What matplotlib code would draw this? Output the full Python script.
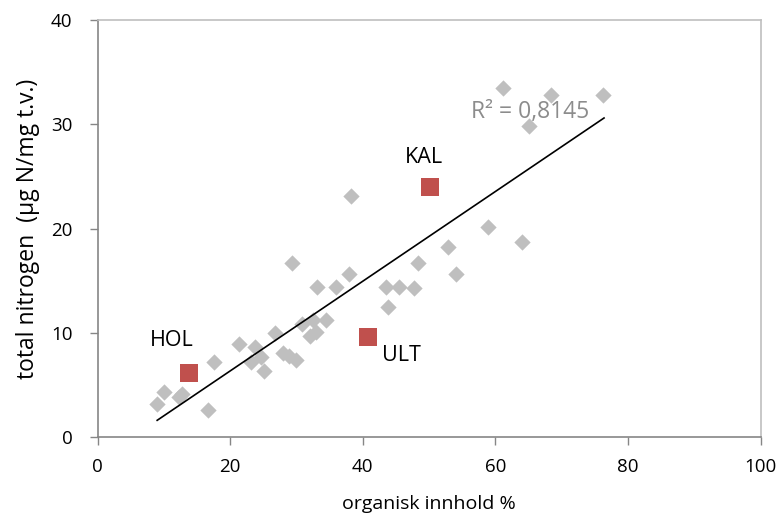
import numpy as np
import matplotlib.pyplot as plt

plt.rcParams["font.family"] = ["Open Sans", "DejaVu Sans"]

# grey samples: organic content (%) vs total nitrogen (ug N/mg dw)
organic = [9.0, 10.1, 12.3, 12.7, 16.7, 17.6, 21.4, 23.8, 23.2, 24.7, 25.1,
           26.8, 28.0, 28.9, 29.9, 29.3, 30.8, 32.0, 32.5, 32.9, 33.1, 34.4,
           35.9, 37.9, 38.2, 43.5, 43.8, 45.4, 47.7, 48.4, 52.9, 54.1, 58.9,
           61.2, 64.1, 65.1, 68.4, 76.2]
nitrogen = [3.2, 4.3, 3.8, 4.1, 2.6, 7.2, 8.9, 8.6, 7.2, 7.7, 6.3,
            10.0, 8.1, 7.8, 7.4, 16.7, 10.8, 9.7, 11.2, 10.1, 14.4, 11.2,
            14.4, 15.6, 23.1, 14.4, 12.5, 14.4, 14.3, 16.7, 18.2, 15.6, 20.1,
            33.5, 18.7, 29.8, 32.8, 32.8]

# highlighted stations
station_names = ["HOL", "ULT", "KAL"]
station_organic = [13.8, 40.8, 50.2]
station_nitrogen = [6.1, 9.6, 24.0]
label_pos = [(11.2, 9.3), (45.9, 7.8), (49.3, 26.8)]

trend_start = (9.0, 1.6)
trend_end = (76.4, 30.6)
r2_text = "R² = 0,8145"

fig = plt.figure(figsize=(7.82, 5.14), dpi=100)
ax = fig.add_axes([97.5 / 782, 1 - 437 / 514, 663 / 782, 417 / 514])

ax.scatter(organic, nitrogen, marker="D", s=8.3 ** 2, color="#BFBFBF",
           linewidths=0, zorder=2)
ax.plot([trend_start[0], trend_end[0]], [trend_start[1], trend_end[1]],
        color="black", linewidth=1.2, zorder=3)
ax.scatter(station_organic, station_nitrogen, marker="s", s=12.5 ** 2,
           color="#C0504D", linewidths=0, zorder=4)

for name, (lx, ly) in zip(station_names, label_pos):
    ax.text(lx, ly, name, fontsize=15.5, ha="center", va="center", color="black")

ax.text(65.2, 31.2, r2_text, fontsize=16.5, ha="center", va="center",
        color="#8C8C8C")

ax.set_xlim(0, 100)
ax.set_ylim(0, 40)
ax.set_xticks(range(0, 101, 20))
ax.set_yticks(range(0, 41, 10))
ax.tick_params(labelsize=13.5, length=6, width=1, color="#868686", pad=9)
ax.tick_params(axis="y", pad=12)

for side in ["left", "bottom"]:
    ax.spines[side].set_color("#868686")
    ax.spines[side].set_linewidth(1.2)
for side in ["top", "right"]:
    ax.spines[side].set_color("#BFBFBF")
    ax.spines[side].set_linewidth(1.2)

ax.set_xlabel("organisk innhold %", fontsize=14, labelpad=14)
ax.set_ylabel("total nitrogen  (µg N/mg t.v.)", fontsize=16.5, labelpad=8)

fig.savefig("out.png", dpi=100)
